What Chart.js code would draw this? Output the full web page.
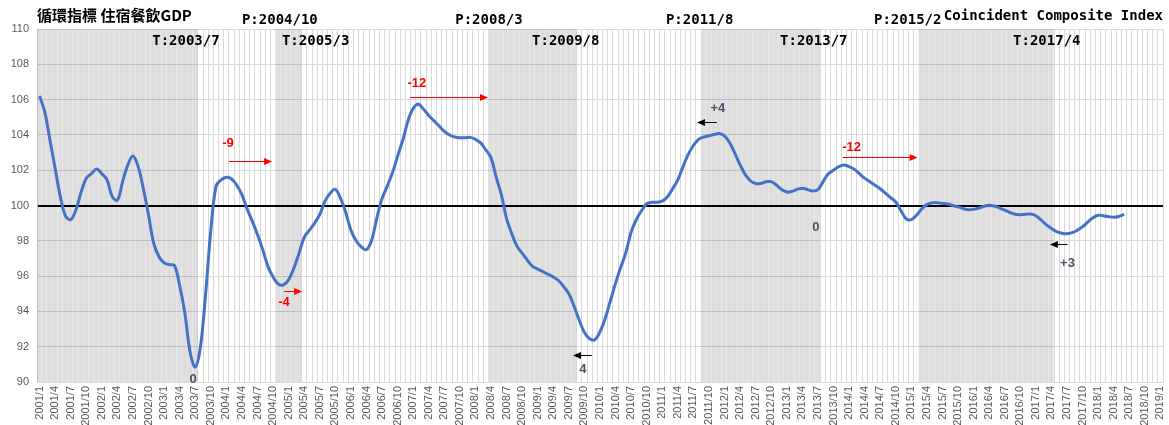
<!DOCTYPE html>
<html>
<head>
<meta charset="utf-8">
<script src="https://cdn.jsdelivr.net/npm/chart.js@4.4.0/dist/chart.umd.min.js"></script>
<style>
    body { margin: 0; background: #fff; }
    #wrap { width: 1169px; height: 425px; }
</style>
</head>
<body>
<div id="wrap"><canvas id="myChart" width="1169" height="425"></canvas></div>
<script>
// monthly coincident index, 2001/1 .. 2018/6
let ciValues = [
    106.2, 105.3, 103.7, 102.1, 100.5, 99.4, 99.2, 99.75, 100.75, 101.55, 101.8, 102.07,   // 2001
    101.8, 101.45, 100.5, 100.3, 101.35, 102.3, 102.8, 102.2, 100.95, 99.45, 97.85, 97.1,  // 2002
    96.75, 96.65, 96.6, 95.45, 93.9, 91.7, 90.85, 92.0, 95.0, 98.6, 101.1, 101.45,         // 2003
    101.6, 101.5, 101.15, 100.6, 99.8, 99.1, 98.35, 97.5, 96.55, 95.95, 95.55, 95.5,       // 2004
    95.8, 96.45, 97.3, 98.2, 98.6, 99.0, 99.5, 100.25, 100.7, 100.92, 100.4, 99.6,         // 2005
    98.6, 98.0, 97.65, 97.5, 98.05, 99.3, 100.4, 101.1, 101.85, 102.8, 103.7, 104.8,       // 2006
    105.5, 105.73, 105.45, 105.1, 104.8, 104.5, 104.2, 104.0, 103.88, 103.84, 103.84, 103.86, // 2007
    103.75, 103.55, 103.15, 102.7, 101.6, 100.6, 99.25, 98.4, 97.7, 97.3, 96.9, 96.55,     // 2008
    96.4, 96.25, 96.1, 95.95, 95.75, 95.4, 95.0, 94.3, 93.5, 92.8, 92.45, 92.4,            // 2009
    92.85, 93.6, 94.6, 95.6, 96.5, 97.35, 98.5, 99.2, 99.7, 100.1, 100.18, 100.18,         // 2010
    100.25, 100.5, 100.95, 101.45, 102.2, 102.9, 103.4, 103.75, 103.88, 103.95, 104.02, 104.08, // 2011
    103.95, 103.55, 102.95, 102.3, 101.75, 101.4, 101.25, 101.25, 101.35, 101.35, 101.16, 100.9, // 2012
    100.76, 100.8, 100.92, 100.98, 100.9, 100.82, 100.9, 101.35, 101.8, 102.0, 102.2, 102.3,  // 2013
    102.2, 102.05, 101.8, 101.55, 101.35, 101.15, 100.95, 100.7, 100.45, 100.2, 99.7, 99.25,  // 2014
    99.2, 99.45, 99.8, 100.05, 100.15, 100.16, 100.12, 100.08, 100.0, 99.92, 99.82, 99.76,    // 2015
    99.78, 99.85, 99.95, 100.02, 99.97, 99.86, 99.74, 99.6, 99.5, 99.48, 99.5, 99.52,         // 2016
    99.42, 99.18, 98.92, 98.7, 98.52, 98.43, 98.4, 98.46, 98.6, 98.8, 99.06, 99.3,            // 2017
    99.45, 99.42, 99.37, 99.33, 99.38, 99.5                                                   // 2018
]

// turning points
let peaks = ['2004/10', '2008/3', '2011/8', '2015/2']
let troughs = ['2003/7', '2005/3', '2009/8', '2013/7', '2017/4']
// shaded = contraction, peak -> trough (first one runs from the start)
let contractions = [['2001/1', '2003/7'], ['2004/10', '2005/3'], ['2008/3', '2009/8'], ['2011/8', '2013/7'], ['2015/2', '2017/4']]

let yTicks = { min: 90, max: 110, step: 2 }

// category labels, one per month 2001/1 .. 2019/1
let months = []
for (let y = 2001; y <= 2019; y++) {
    for (let m = 1; m <= 12; m++) {
        months.push(y + '/' + m)
        if (y == 2019) break
    }
}
// month boundaries (one more than months), used by the shading
let edges = months.concat(['end'])

// text above the plot: [text, month position, row]  row 0 = above frame, 1 = inside
let turnLabels = [
    ['T:2003/7', 28.2, 1], ['P:2004/10', 46.3, 0], ['T:2005/3', 53.2, 1],
    ['P:2008/3', 86.6, 0], ['T:2009/8', 101.4, 1], ['P:2011/8', 127.2, 0],
    ['T:2013/7', 149.2, 1], ['P:2015/2', 167.3, 0], ['T:2017/4', 194.1, 1]
]
// lead / lag notes: [text, month pos, value, color]
let leadNotes = [
    ['-9', 36.3, 103.54, '#ff0000'], ['-4', 47.1, 94.53, '#ff0000'], ['-12', 72.7, 106.94, '#ff0000'],
    ['+4', 130.7, 105.52, '#44546a'], ['0', 29.6, 90.17, '#44546a'], ['4', 104.7, 90.74, '#44546a'],
    ['-12', 156.5, 103.31, '#ff0000'], ['0', 149.6, 98.78, '#44546a'], ['+3', 198.1, 96.74, '#44546a']
]
// arrows: [from month, to month, value, color]
let leadArrows = [
    [36.5, 44.8, 102.52, '#ff0000'], [47.1, 50.6, 95.16, '#ff0000'], [71.4, 86.4, 106.15, '#ff0000'],
    [130.5, 126.7, 104.73, '#000000'], [106.4, 102.8, 91.53, '#000000'], [154.8, 169.2, 102.75, '#ff0000'],
    [198.1, 194.7, 97.82, '#000000']
]

// a bar on edge k spans month k-1 .. month k, so peak+1 .. trough covers peak -> trough
let shadeData = edges.map((lab, k) => {
    for (let c of contractions) {
        let p = months.indexOf(c[0]), t = months.indexOf(c[1])
        if (p == 0 && k == 0) return [yTicks.min, yTicks.max]
        if (k > p && k <= t) return [yTicks.min, yTicks.max]
    }
    return null
})

let monoFont = 'bold 14px "DejaVu Sans Mono"'

let overlay = {
    id: 'overlay',
    afterDraw(chart) {
        let ctx = chart.ctx
        let xs = chart.scales.x
        let ys = chart.scales.y
        let area = chart.chartArea
        // months are evenly spaced, so fractional positions are fine
        let px = i => xs.getPixelForValue(0) + i * (xs.getPixelForValue(1) - xs.getPixelForValue(0))
        ctx.save()

        // x labels, every 3rd month, reading upwards
        ctx.fillStyle = '#595959'
        ctx.font = '11px "Liberation Sans"'
        ctx.textAlign = 'right'
        ctx.textBaseline = 'middle'
        months.forEach((lab, i) => {
            if (i % 3 != 0) return
            ctx.save()
            ctx.translate(px(i), area.bottom + 4)
            ctx.rotate(-Math.PI / 2)
            ctx.fillText(lab, 0, 0)
            ctx.restore()
        })

        // titles
        ctx.fillStyle = '#000'
        ctx.textBaseline = 'middle'
        ctx.textAlign = 'left'
        ctx.font = 'bold 15px "Noto Sans CJK TC"'
        ctx.fillText('循環指標 住宿餐飲GDP', 37, 15)
        ctx.font = monoFont
        ctx.textAlign = 'right'
        ctx.fillText('Coincident Composite Index', 1163, 16)

        ctx.textAlign = 'center'
        turnLabels.forEach(t => {
            ctx.fillText(t[0], px(t[1]), t[2] == 0 ? 20 : 41)
        })

        // lead/lag arrows
        leadArrows.forEach(a => {
            let x1 = px(a[0]), x2 = px(a[1]), y = Math.round(ys.getPixelForValue(a[2])) + 0.5
            let dir = x2 > x1 ? 1 : -1
            ctx.strokeStyle = a[3]
            ctx.fillStyle = a[3]
            ctx.lineWidth = 1
            ctx.beginPath()
            ctx.moveTo(x1, y)
            ctx.lineTo(x2 - dir * 6, y)
            ctx.stroke()
            ctx.beginPath()
            ctx.moveTo(x2, y)
            ctx.lineTo(x2 - dir * 8, y - 3.5)
            ctx.lineTo(x2 - dir * 8, y + 3.5)
            ctx.closePath()
            ctx.fill()
        })

        ctx.font = 'bold 13px "Liberation Sans"'
        leadNotes.forEach(n => {
            ctx.fillStyle = n[3]
            ctx.fillText(n[0], px(n[1]), ys.getPixelForValue(n[2]))
        })
        ctx.restore()
    }
}

let ctx = document.getElementById('myChart')
let myChart = new Chart(ctx, {
    type: 'bar',
    data: {
        labels: months,
        datasets: [{
            type: 'line',
            data: ciValues,
            borderColor: '#4472c4',
            borderWidth: 3,
            pointRadius: 0,
            tension: 0.35,
            xAxisID: 'x',
            order: 1
        }, {
            type: 'bar',
            data: shadeData,
            backgroundColor: 'rgba(0, 0, 0, 0.13)',
            borderWidth: 0,
            barThickness: 4.3,
            xAxisID: 'x2',
            order: 2
        }]
    },
    options: {
        responsive: false,
        animation: false,
        layout: { padding: { top: 29, right: 6, left: 0, bottom: 0 } },
        plugins: { legend: { display: false }, tooltip: { enabled: false } },
        scales: {
            x: {
                offset: true,
                grid: {
                    // month lines are hidden under the shading, the gaps make the stripes there
                    color: c => shadeData[c.index] ? 'rgba(0,0,0,0)' : '#d9d9d9',
                    lineWidth: 1,
                    drawTicks: false,
                    offset: true
                },
                border: { color: '#d9d9d9' },
                ticks: { display: false },
                afterFit: scale => { scale.height = 43 }
            },
            x2: {
                type: 'category',
                labels: edges,
                offset: false,
                display: false
            },
            y: {
                min: yTicks.min,
                max: yTicks.max,
                ticks: {
                    stepSize: yTicks.step,
                    color: '#595959',
                    font: { family: 'Liberation Sans', size: 11 },
                    padding: 8
                },
                grid: {
                    drawTicks: false,
                    color: c => c.tick && c.tick.value == 100 ? '#000000' : '#d9d9d9',
                    lineWidth: c => c.tick && c.tick.value == 100 ? 2 : 1
                },
                border: { color: '#d9d9d9' },
                afterFit: scale => { scale.width = 37 }
            }
        }
    },
    plugins: [overlay]
})
</script>
</body>
</html>
